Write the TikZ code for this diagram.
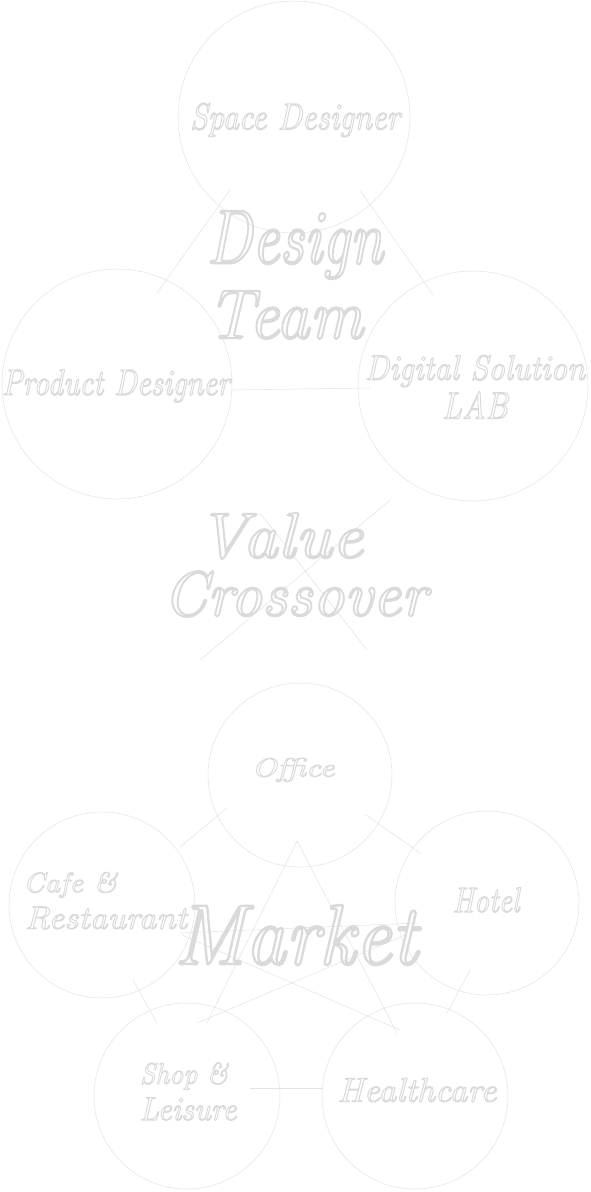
\documentclass[tikz,border=0pt]{standalone}
\usepackage{graphicx}
\newcommand{\hollowtxt}[1]{\special{pdf:literal direct 1 Tr 0.3 w}#1\special{pdf:literal direct 0 Tr}}
\newcommand{\fit}[3]{\resizebox*{#1pt}{#2pt}{\itshape\hollowtxt{#3}}}
\definecolor{lc}{HTML}{E3E3E3}
\definecolor{tc}{HTML}{DADADA}
\tikzset{
  ring/.style={circle, draw=lc, line width=0.5pt, inner sep=0pt},
  lbl/.style={inner sep=0pt, text=tc, draw=none},
  conn/.style={draw=lc, line width=0.5pt},
}
\begin{document}
\begin{tikzpicture}[x=1pt,y=-1pt]
\useasboundingbox[fill=white] (0,0) rectangle (590,1192);
% ---- Design team circles
\node[ring, minimum size=232pt] (sd) at (294,117) {};
\node[ring, minimum size=230pt] (pd) at (117,384) {};
\node[ring, minimum size=230pt] (dl) at (473,386) {};
% ---- Market circles
\node[ring, minimum size=184pt] (of) at (300,775) {};
\node[ring, minimum size=186pt] (cr) at (102,905) {};
\node[ring, minimum size=184pt] (ho) at (487,903) {};
\node[ring, minimum size=186pt] (sl) at (187,1096) {};
\node[ring, minimum size=186pt] (hc) at (415,1096) {};
% ---- connector end points
\coordinate (c1a) at (230,190); \coordinate (c1b) at (157,293);
\coordinate (c2a) at (360,190); \coordinate (c2b) at (433,295);
\coordinate (c3a) at (232,390); \coordinate (c3b) at (370,388);
\coordinate (c4a) at (390,500); \coordinate (c4b) at (200,660);
\coordinate (c5a) at (260,513); \coordinate (c5b) at (367,650);
\coordinate (c6a) at (227,808); \coordinate (c6b) at (180,847);
\coordinate (c7a) at (366,815); \coordinate (c7b) at (420,853);
\coordinate (c8a) at (180,933); \coordinate (c8b) at (417,923);
\coordinate (c9a) at (182,935); \coordinate (c9b) at (400,1030);
\coordinate (c10a) at (405,935); \coordinate (c10b) at (197,1023);
\coordinate (apx) at (297,841);
\coordinate (c11b) at (207,1023); \coordinate (c12b) at (397,1033);
\coordinate (c13a) at (133,980); \coordinate (c13b) at (157,1023);
\coordinate (c14a) at (470,970); \coordinate (c14b) at (447,1013);
\coordinate (c15a) at (250,1088); \coordinate (c15b) at (323,1088);
\path[conn] (c1a) -- (c1b);
\path[conn] (c2a) -- (c2b);
\path[conn] (c3a) -- (c3b);
\path[conn] (c4a) -- (c4b);
\path[conn] (c5a) -- (c5b);
\path[conn] (c6a) -- (c6b);
\path[conn] (c7a) -- (c7b);
\path[conn] (c8a) -- (c8b);
\path[conn] (c9a) -- (c9b);
\path[conn] (c10a) -- (c10b);
\path[conn] (apx) -- (c11b);
\path[conn] (apx) -- (c12b);
\path[conn] (c13a) -- (c13b);
\path[conn] (c14a) -- (c14b);
\path[conn] (c15a) -- (c15b);
% ---- labels
\node[lbl] (tsd) at (295,120) {\fit{210}{34}{Space Designer}};
\node[lbl] (tpd) at (116,386) {\fit{228}{33}{Product Designer}};
\node[lbl] (tdl1) at (475,371) {\fit{220}{32}{Digital Solution}};
\node[lbl] (tdl2) at (475,405) {\fit{66}{27}{LAB}};
\node[lbl] (tdt1) at (295,245) {\fit{176}{68}{Design}};
\node[lbl] (tdt2) at (285,315) {\fit{156}{48}{Team}};
\node[lbl] (tvc1) at (280,536) {\fit{166}{46}{Value}};
\node[lbl] (tvc2) at (295,594) {\fit{264}{46}{Crossover}};
\node[lbl] (tof) at (293,770) {\fit{83}{24}{Office}};
\node[lbl] (tcr1) at (70,885) {\fit{94}{26}{Cafe \&}};
\node[lbl] (tcr2) at (106,918) {\fit{162}{23}{Restaurant}};
\node[lbl] (tmk) at (296,935) {\fit{243}{60}{Market}};
\node[lbl] (tho) at (486,900) {\fit{67}{25}{Hotel}};
\node[lbl] (tsl1) at (184,1076) {\fit{88}{27}{Shop \&}};
\node[lbl] (tsl2) at (188,1109) {\fit{97}{23}{Leisure}};
\node[lbl] (thc) at (417,1090) {\fit{159}{24}{Healthcare}};
\end{tikzpicture}
\end{document}
